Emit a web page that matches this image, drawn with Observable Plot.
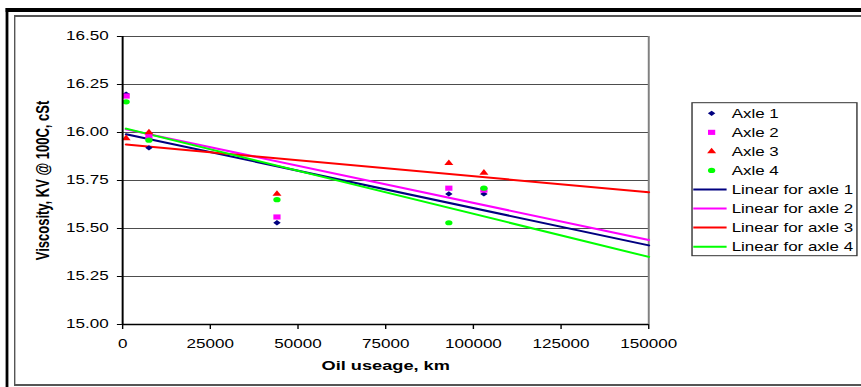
<!DOCTYPE html>
<html><head><meta charset="utf-8">
<script src="https://cdn.jsdelivr.net/npm/d3@7"></script>
<script src="https://cdn.jsdelivr.net/npm/@observablehq/plot@0.6"></script>
<style>
html,body{margin:0;padding:0;background:#fff;overflow:hidden;width:861px;height:387px;}
#wrap{position:absolute;left:0;top:0;width:615px;height:387px;transform:scale(1.4,1);transform-origin:0 0;font-family:"Liberation Sans",Arial,sans-serif;}
#outer{position:absolute;left:4.3px;top:8px;width:700px;height:400px;border-top:4px solid #000;border-left:2.86px solid #000;}
#inner{position:absolute;left:10px;top:14.7px;width:700px;height:367.8px;border-top:2px solid #555;border-left:1.43px solid #555;border-bottom:2px solid #555;}
#chart{position:absolute;left:0;top:0;}
#legend{position:absolute;left:0;top:0;}
</style></head><body>
<div id="wrap"><div id="outer"></div><div id="inner"></div><div id="chart"></div><svg id="legend" width="615" height="387"></svg></div>
<script>
// ---- data ----
const km = [1000, 7500, 44000, 93000, 103000];
const axle1 = [16.20, 15.92, 15.53, 15.68, 15.68];
const axle2 = [16.19, 15.98, 15.56, 15.71, 15.70];
const axle3 = [15.97, 16.00, 15.68, 15.84, 15.79];
const axle4 = [16.16, 15.96, 15.65, 15.53, 15.71];
const seriesNames = ["Axle 1", "Axle 2", "Axle 3", "Axle 4"];
const trendNames = ["Linear for axle 1", "Linear for axle 2", "Linear for axle 3", "Linear for axle 4"];
const xTicks = [0, 25000, 50000, 75000, 100000, 125000, 150000];
const yTicks = [15.00, 15.25, 15.50, 15.75, 16.00, 16.25, 16.50];
const xTitle = "Oil useage, km";
const yTitle = "Viscosity, KV @ 100C, cSt";

// ---- styles ----
const colors = ["#000080", "#ff00ff", "#ff0000", "#00ff00"];
const symbolNames = ["diamond2", "square", "triangle", "circle"];
const symbolR = [2.4, 2.9, 2.4, 2.6];
const FONT = "'Liberation Sans', Arial, sans-serif";

const seriesValues = [axle1, axle2, axle3, axle4];
const points = seriesNames.map((s, k) => km.map((x, i) => ({series: s, km: x, v: seriesValues[k][i]})));

// least-squares trend lines (Excel "Linear" trendline, forecast to axis end)
const xEnd = xTicks[xTicks.length - 1];
const xStart = d3.min(km);
const trends = seriesNames.map((s, k) => {
  const ys = seriesValues[k];
  const mx = d3.mean(km), my = d3.mean(ys);
  const b = d3.sum(km, (x, i) => (x - mx) * (ys[i] - my)) / d3.sum(km, x => (x - mx) ** 2);
  const a = my - b * mx;
  return [xStart, xEnd].map(x => ({series: s, km: x, v: a + b * x}));
}).flat();

const chart = Plot.plot({
  width: 615,
  height: 387,
  marginTop: 36,
  marginBottom: 63,
  marginLeft: 87.1,
  marginRight: 152.1,
  style: {background: "transparent", fontSize: "12.2px", fontFamily: FONT, color: "#000", overflow: "visible"},
  x: {domain: [xTicks[0], xEnd], ticks: xTicks, tickFormat: d => String(d), tickSize: 5, tickPadding: 10, label: null},
  y: {domain: [yTicks[0], yTicks[yTicks.length - 1]], ticks: yTicks, tickFormat: d => d.toFixed(2), tickSize: 3.6, tickPadding: 6.4, label: null},
  color: {domain: seriesNames, range: colors},
  marks: [
    Plot.ruleY(yTicks, {stroke: "#4d4d4d", strokeWidth: 1}),
    Plot.ruleX([xEnd], {stroke: "#808080", strokeWidth: 1.4}),
    Plot.line(trends, {x: "km", y: "v", z: "series", stroke: "series", strokeWidth: 2}),
    ...points.map((pts, k) => Plot.dot(pts, {x: "km", y: "v", symbol: () => symbolNames[k], fill: colors[k], stroke: "none", r: symbolR[k]})),
    Plot.ruleX([xTicks[0]], {stroke: "#000", strokeWidth: 1.4}),
    Plot.ruleY([yTicks[0]], {stroke: "#000", strokeWidth: 1.5}),
    Plot.text([xTitle], {text: d => d, frameAnchor: "bottom", dy: 41.5, lineAnchor: "middle", textAnchor: "middle", fontWeight: "bold", fontSize: 13}),
    Plot.text([yTitle], {text: d => d, frameAnchor: "left", dx: -57, rotate: -90, lineAnchor: "middle", textAnchor: "middle", fontWeight: "bold", fontSize: 13})
  ]
});
document.getElementById("chart").appendChild(chart);

// ---- legend ----
const lg = d3.select("#legend");
lg.append("rect").attr("x", 494.3).attr("y", 102.7).attr("width", 117.8).attr("height", 153)
  .attr("fill", "#fff").attr("stroke", "#333").attr("stroke-width", 1);
const symTypes = {
  diamond2: d3.symbolDiamond2 || {draw(c, s) { const r = Math.sqrt(s) * 0.62625; c.moveTo(0, -r); c.lineTo(r, 0); c.lineTo(0, r); c.lineTo(-r, 0); c.closePath(); }},
  square: d3.symbolSquare, triangle: d3.symbolTriangle, circle: d3.symbolCircle
};
const rowY = i => 113.3 + i * 19.05;
seriesNames.forEach((s, k) => {
  lg.append("path").attr("transform", `translate(508.3,${rowY(k)})`)
    .attr("d", d3.symbol(symTypes[symbolNames[k]], Math.PI * symbolR[k] ** 2)()).attr("fill", colors[k]);
  lg.append("text").attr("x", 522.6).attr("y", rowY(k)).attr("dy", "0.35em")
    .attr("font-family", FONT).attr("font-size", 12.1).attr("fill", "#000").text(s);
});
trendNames.forEach((s, k) => {
  const y = rowY(k + 4);
  lg.append("line").attr("x1", 495.2).attr("x2", 519).attr("y1", y).attr("y2", y)
    .attr("stroke", colors[k]).attr("stroke-width", 2);
  lg.append("text").attr("x", 522.6).attr("y", y).attr("dy", "0.35em")
    .attr("font-family", FONT).attr("font-size", 12.1).attr("fill", "#000").text(s);
});
</script>
</body></html>
